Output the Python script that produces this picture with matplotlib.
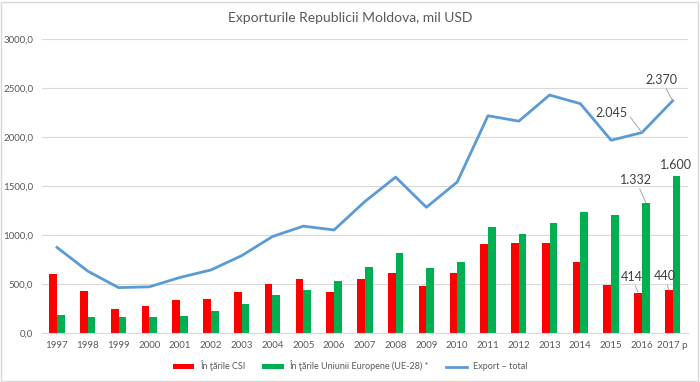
import matplotlib.pyplot as plt
import numpy as np

plt.rcParams['font.family'] = ['Lato', 'DejaVu Sans']

years = ['1997', '1998', '1999', '2000', '2001', '2002', '2003', '2004', '2005', '2006',
         '2007', '2008', '2009', '2010', '2011', '2012', '2013', '2014', '2015', '2016', '2017 p']
csi = [598, 426, 247, 274, 341, 345, 419, 497, 547, 419,
       547, 618, 483, 618, 912, 922, 915, 730, 486, 414, 440]
ue = [182, 162, 169, 162, 179, 230, 301, 392, 439, 530,
      672, 814, 662, 723, 1078, 1007, 1128, 1240, 1209, 1332, 1600]
total = [874, 632, 464, 472, 568, 644, 790, 985, 1091, 1052,
         1342, 1591, 1283, 1541, 2217, 2162, 2428, 2340, 1967, 2045, 2370]

red = '#FF0000'
green = '#00B050'
blue = '#5B9BD5'
grey = '#595959'

fig = plt.figure(figsize=(7, 3.82), dpi=100)
ax = fig.add_axes([0.0594, 0.128, 0.9236, 0.77])

x = np.arange(len(years))
w = 0.25
b1 = ax.bar(x - w / 2, csi, w, color=red, label='În ţările CSI', zorder=2)
b2 = ax.bar(x + w / 2, ue, w, color=green, label='În ţările Uniunii Europene (UE-28) *', zorder=2)
l1, = ax.plot(x, total, color=blue, lw=2, label='Export – total', zorder=3)

ax.set_xlim(-0.5, len(years) - 0.5)
ax.set_ylim(0, 3000)
ax.set_yticks(np.arange(0, 3001, 500))
ax.set_yticklabels([f'{v},0' for v in range(0, 3001, 500)])
ax.set_xticks(x)
ax.set_xticklabels(years)
ax.tick_params(axis='both', length=0, labelsize=7, colors=grey, pad=6)
ax.grid(axis='y', color='#D9D9D9', lw=0.8, zorder=0)
for s in ['top', 'right', 'left']:
    ax.spines[s].set_visible(False)
ax.spines['bottom'].set_color('#D9D9D9')

fig.suptitle('Exporturile Republicii Moldova, mil USD', y=0.968, fontsize=10, color=grey)

lead = dict(arrowstyle='-', color='#A6A6A6', lw=0.7, shrinkA=0, shrinkB=0)
lab = dict(fontsize=9, color='#404040', ha='center', va='center')
ax.annotate('2.370', xy=(20, 2370), xytext=(19.63, 2581), arrowprops=lead, **lab)
ax.annotate('2.045', xy=(19, 2045), xytext=(18.0, 2244),
            arrowprops=dict(lead, relpos=(1, 0.5)), **lab)
ax.annotate('1.332', xy=(19 + w / 2, 1332), xytext=(18.8, 1561), arrowprops=lead, **lab)
ax.annotate('1.600', xy=(20 + w / 2, 1600), xytext=(20.1, 1714), **lab)
ax.annotate('414', xy=(19 - w / 2, 414), xytext=(18.66, 571), arrowprops=lead, **lab)
ax.annotate('440', xy=(20 - w / 2, 440), xytext=(19.73, 581), arrowprops=lead, **lab)

fig.legend(handles=[b1, b2, l1], loc='center', bbox_to_anchor=(0.5, 0.042), ncol=3,
           frameon=False, fontsize=6.5, labelcolor=grey, handlelength=2.4, handleheight=0.5,
           columnspacing=1.9, handletextpad=0.6)

fig.patches.append(plt.Rectangle((0.002, 0.003), 0.995, 0.993, transform=fig.transFigure,
                                 fill=False, edgecolor='#D9D9D9', lw=1))

fig.savefig('out.png', dpi=100)
